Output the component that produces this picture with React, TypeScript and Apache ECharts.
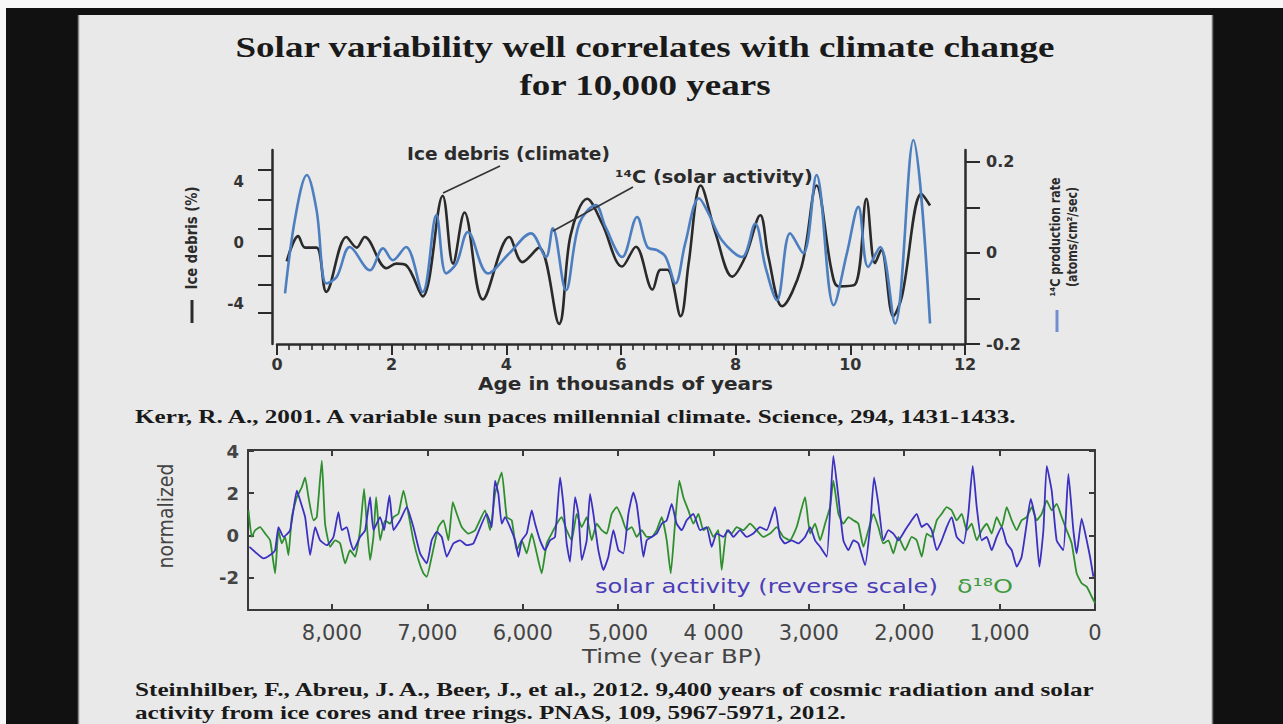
import React, { useEffect, useRef } from "react";
import * as echarts from "echarts";

const W = 1283;
const H = 724;

// ---------- Top chart (Kerr 2001) ----------
const iceAgeKyr = [0.17, 0.37, 0.49, 0.69, 0.86, 1.21, 1.39, 1.53, 1.91, 2.08, 2.25, 2.54, 2.89, 3.07, 3.27, 3.59, 4.05, 4.28, 4.57, 4.92, 5.12, 5.41, 5.67, 6.02, 6.26, 6.55, 6.69, 6.81, 7.04, 7.18, 7.39, 7.65, 7.94, 8.17, 8.43, 8.57, 8.81, 9.15, 9.41, 9.67, 9.79, 10.08, 10.28, 10.43, 10.54, 10.75, 10.9, 11.24, 11.39];
const iceDebrisPct = [-1.2, 0.45, -0.3, -0.3, -3.2, 0.4, -0.3, 0.4, -1.65, -1.35, -1.45, -3.5, 3.1, -1.35, 2.0, -3.7, 0.4, -1.25, -0.3, -5.3, 0.5, 2.9, 1.28, -1.54, -0.24, -3.05, -1.75, -1.75, -4.8, -1.32, 3.77, 0.63, -2.2, -0.88, 1.82, -0.88, -4.14, -1.54, 3.77, -1.75, -2.84, -2.73, 2.9, -1.32, -0.45, -4.8, -3.5, 3.22, 2.46];

const c14AgeKyr = [0.14, 0.32, 0.52, 0.69, 0.86, 1.04, 1.27, 1.62, 1.85, 2.02, 2.25, 2.54, 2.78, 2.95, 3.13, 3.33, 3.68, 4.05, 4.43, 4.69, 4.81, 5.04, 5.27, 5.56, 5.73, 6.02, 6.28, 6.46, 6.63, 6.78, 6.95, 7.12, 7.36, 7.53, 7.76, 8.11, 8.34, 8.52, 8.72, 8.95, 9.18, 9.41, 9.71, 9.94, 10.14, 10.31, 10.52, 10.78, 11.1, 11.39];
const c14Rate = [-0.089, 0.079, 0.171, 0.094, -0.067, -0.053, 0.013, -0.038, 0.01, -0.016, 0.013, -0.086, 0.083, -0.045, -0.023, 0.046, -0.045, -0.001, 0.043, -0.009, 0.054, -0.082, 0.064, 0.105, 0.057, -0.009, 0.079, 0.013, 0.006, -0.009, -0.067, 0.021, 0.12, 0.086, 0.028, -0.009, 0.064, -0.031, -0.104, 0.043, -0.001, 0.171, -0.115, -0.001, 0.101, -0.031, 0.013, -0.155, 0.248, -0.155];

const topAgeTicks = [0, 2, 4, 6, 8, 10, 12];
const iceDebrisLabels = [4, 0, -4];
const iceDebrisTickMarks = [4.8, 2.85, 0.95, -0.85, -2.75, -4.6];
const c14Labels = [0.2, 0, -0.2];
const c14TickMarks = [0.2, 0.1, 0, -0.1, -0.2];

// ---------- Bottom chart (Steinhilber 2012) ----------
const solarYearsBP = [8865, 8788, 8718, 8648, 8596, 8561, 8508, 8438, 8368, 8333, 8281, 8229, 8176, 8124, 8054, 7984, 7932, 7897, 7844, 7810, 7775, 7705, 7652, 7600, 7565, 7495, 7453, 7397, 7355, 7285, 7216, 7146, 7076, 7006, 6954, 6901, 6849, 6796, 6727, 6656, 6587, 6517, 6377, 6325, 6290, 6255, 6220, 6185, 6133, 6080, 6045, 6010, 5958, 5905, 5870, 5818, 5766, 5713, 5661, 5608, 5574, 5539, 5504, 5451, 5416, 5381, 5329, 5294, 5259, 5207, 5154, 5102, 5049, 4997, 4945, 4892, 4840, 4805, 4770, 4735, 4700, 4648, 4595, 4543, 4490, 4438, 4386, 4333, 4281, 4211, 4141, 4071, 4019, 3966, 3896, 3844, 3791, 3722, 3652, 3582, 3512, 3442, 3355, 3302, 3250, 3180, 3110, 3040, 2987, 2935, 2882, 2812, 2743, 2690, 2638, 2585, 2533, 2481, 2411, 2358, 2316, 2271, 2219, 2166, 2114, 2061, 1991, 1922, 1869, 1817, 1764, 1712, 1659, 1607, 1555, 1502, 1450, 1380, 1328, 1282, 1240, 1188, 1135, 1083, 1031, 978, 926, 873, 821, 769, 716, 674, 629, 583, 541, 506, 454, 402, 332, 279, 227, 192, 140, 87, 52, 17];
const solarNorm = [-0.55, -0.86, -1.1, -0.94, -0.71, 0.39, -0.08, 0.24, 2.12, 1.65, 0.86, -0.94, 0.39, -0.24, -0.47, -0.08, 1.1, 0.24, 0.39, -0.24, -0.71, -0.08, 0.24, 1.81, 0.24, 0.86, 0.24, 1.89, 0.24, 0.71, 1.34, 0.39, -0.86, -1.34, -0.24, 0.16, -0.08, -1.02, -0.39, -0.24, -0.47, -0.39, 1.02, 0.39, 2.59, 1.97, 0.55, 0.86, 0.39, -0.24, -1.02, -0.24, 0.08, 1.18, 0.55, -0.24, -0.71, -0.24, -0.08, 2.75, 1.49, -0.39, -1.26, 1.81, 1.02, -1.18, -0.24, 1.97, 1.02, -0.71, -1.65, -1.02, 0.24, -0.71, -0.86, 1.02, 2.04, 1.49, 0.24, -1.02, -0.24, -0.08, 0.08, 0.55, 0.71, 1.49, 0.55, 0.24, 0.71, 1.02, 0.24, 0.39, -0.55, 0.08, -0.08, 0.24, -0.08, 0.24, -0.08, 0.08, 0.39, 0.24, 1.34, -0.08, -0.39, -0.24, -0.39, -0.08, 0.39, -0.24, -0.55, -1.02, 3.77, 1.81, -0.24, -0.71, -0.24, -0.39, -1.42, 0.39, 2.75, 1.49, -0.24, 0.24, 0.08, -0.24, 0.24, 0.71, 1.02, 0.39, 0.55, 0.24, -0.71, -0.24, 0.39, 0.86, -0.08, -0.39, 1.02, 3.3, 1.34, -0.24, -0.08, -0.71, -0.08, 0.39, -0.39, -0.71, -1.49, -1.02, 0.55, 1.73, 0.86, -1.49, 0.24, 3.3, 2.12, -0.24, -0.71, 2.91, 0.24, -0.86, 0.79, -0.24, -1.02, -1.97];

const d18OYearsBP = [8875, 8840, 8805, 8753, 8700, 8648, 8596, 8561, 8526, 8491, 8456, 8421, 8368, 8316, 8281, 8246, 8194, 8159, 8106, 8072, 8019, 7967, 7914, 7862, 7810, 7757, 7705, 7663, 7635, 7600, 7565, 7537, 7495, 7443, 7390, 7355, 7303, 7250, 7198, 7146, 7093, 7041, 7006, 6954, 6884, 6831, 6779, 6733, 6691, 6639, 6569, 6499, 6395, 6342, 6290, 6220, 6167, 6115, 6063, 6010, 5958, 5905, 5853, 5801, 5748, 5696, 5643, 5591, 5539, 5486, 5434, 5381, 5329, 5277, 5224, 5172, 5119, 5067, 5014, 4962, 4910, 4857, 4805, 4752, 4700, 4648, 4595, 4543, 4490, 4448, 4403, 4358, 4316, 4263, 4211, 4158, 4106, 4054, 4001, 3949, 3914, 3861, 3809, 3757, 3687, 3617, 3547, 3477, 3407, 3337, 3267, 3198, 3128, 3040, 2987, 2935, 2882, 2830, 2778, 2743, 2690, 2638, 2585, 2533, 2481, 2428, 2376, 2323, 2271, 2219, 2166, 2114, 2061, 1991, 1922, 1869, 1817, 1764, 1712, 1659, 1607, 1555, 1502, 1450, 1397, 1345, 1293, 1240, 1188, 1135, 1083, 1031, 978, 926, 873, 821, 769, 716, 664, 611, 559, 506, 454, 402, 349, 297, 244, 192, 140, 87, 35, 0];
const d18ONorm = [1.18, -0.08, 0.24, 0.39, 0.08, -0.24, -1.81, 0.24, -0.39, -0.08, -0.94, 0.86, 1.81, 2.28, 2.75, 1.81, 0.71, 0.86, 3.54, 0.55, -0.55, -0.24, -0.39, -1.34, -0.71, -1.02, 0.24, 2.2, 0.55, -1.18, -0.08, 1.81, -0.24, 0.71, 0.55, 0.86, 1.02, 2.12, 1.02, -0.24, -1.18, -1.81, -1.97, -1.02, 0.39, 0.71, -0.24, 1.57, 1.02, 0.39, 0.08, 0.24, 1.18, 0.24, 1.97, 2.99, 0.86, 0.71, -0.71, -0.24, -0.86, 0.08, -0.86, -1.81, -0.39, 0.08, 0.55, 0.86, 0.24, -0.24, 1.02, 0.39, 0.86, -0.24, 0.55, 0.24, 0.08, 1.02, 1.34, 0.86, 0.24, 0.39, -0.08, 0.24, -0.08, -0.08, 0.24, 0.86, -0.24, -1.81, 0.55, 2.59, 1.81, 1.18, 0.55, 1.02, 0.24, 0.39, -0.08, 0.24, -1.65, 0.24, 0.08, 0.39, 0.24, 0.55, 0.24, -0.08, 0.08, 0.39, -0.08, -0.24, 0.39, 1.81, 0.08, 0.55, -0.24, 0.55, 1.34, 2.59, 1.02, 0.55, 0.86, 0.71, 0.55, -0.55, 0.24, 1.02, 0.39, -0.39, -0.24, -0.86, -0.08, -0.71, -0.08, -0.24, -1.02, 0.08, -0.08, 0.71, 1.02, 1.34, 1.18, 0.71, 1.02, 0.24, 0.55, -0.24, 0.24, 0.55, 0.08, 0.86, 0.39, 1.34, 0.71, 0.24, 0.71, 0.86, 1.34, 0.71, 1.02, 1.65, 1.18, 1.49, 0.86, 0.24, -0.39, -1.81, -2.28, -2.44, -2.91, -3.22];

const bpTicks = [0, 1000, 2000, 3000, 4000, 5000, 6000, 7000, 8000];
const bpTickLabels = ["0", "1,000", "2,000", "3,000", "4 000", "5,000", "6,000", "7,000", "8,000"];
const normTicks = [4, 2, 0, -2];

// ---------- Texts ----------
const titleLines = ["Solar variability well correlates with climate change", "for 10,000 years"];
const kerrRef = "Kerr, R. A., 2001. A variable sun paces millennial climate. Science, 294, 1431-1433.";
const steinRef = [
  "Steinhilber, F., Abreu, J. A., Beer, J., et al., 2012. 9,400 years of cosmic radiation and solar",
  "activity from ice cores and tree rings. PNAS, 109, 5967-5971, 2012.",
];

const SERIF = "Liberation Serif";
const SANS = "DejaVu Sans";

let measureCtx: CanvasRenderingContext2D | null = null;
function textWidth(text: string, size: number, family: string, weight: string) {
  if (!measureCtx) measureCtx = document.createElement("canvas").getContext("2d");
  measureCtx!.font = `${weight} ${size}px "${family}"`;
  return measureCtx!.measureText(text).width;
}

function txt(text: string, x: number, y: number, size: number, family: string, weight: string, fill: string, opts: any = {}) {
  return {
    type: "text",
    x,
    y,
    z: 20,
    rotation: opts.rotation || 0,
    scaleX: opts.scaleX || 1,
    scaleY: opts.scaleY || 1,
    style: {
      text,
      fontSize: size,
      fontFamily: family,
      fontWeight: weight,
      fill,
      align: opts.align || "left",
      verticalAlign: "middle",
      textAlign: opts.align || "left",
      textVerticalAlign: "middle",
    },
  };
}

function fitted(text: string, left: number, right: number, cy: number, size: number, family: string, weight: string, fill: string) {
  const s = (right - left) / textWidth(text, size, family, weight);
  return txt(text, left, cy, size, family, weight, fill, { scaleX: s });
}

export default function App() {
  const ref = useRef<HTMLDivElement>(null);

  useEffect(() => {
    const chart = echarts.init(ref.current!, null, { renderer: "svg", width: W, height: H });

    const titleSize = 30;
    const tScale = 820 / textWidth(titleLines[0], titleSize, SERIF, "bold");
    const refSize = 18;
    const rScale = (1097 - 135) / textWidth(steinRef[0], refSize, SERIF, "bold");
    const rightNameSize = 12;
    const rnScale = 119 / textWidth("¹⁴C production rate", rightNameSize, SANS, "bold");

    const graphics: any[] = [
      // screen frame
      { type: "rect", shape: { x: 0, y: 0, width: W, height: 8 }, style: { fill: "#f7f7f7" }, z: 1 },
      { type: "rect", shape: { x: 0, y: 0, width: 6, height: H }, style: { fill: "#f7f7f7" }, z: 1 },
      { type: "rect", shape: { x: 6, y: 8, width: W - 6, height: 7 }, style: { fill: "#111111" }, z: 1 },
      { type: "rect", shape: { x: 6, y: 8, width: 72, height: H - 8 }, style: { fill: "#111111" }, z: 1 },
      { type: "rect", shape: { x: 1213, y: 8, width: W - 1213, height: H - 8 }, style: { fill: "#111111" }, z: 1 },
      { type: "line", shape: { x1: 1212.5, y1: 15, x2: 1212.5, y2: H }, style: { stroke: "#777", lineWidth: 1.5 }, z: 2 },
      { type: "line", shape: { x1: 78.5, y1: 15, x2: 78.5, y2: H }, style: { stroke: "#888", lineWidth: 1.5 }, z: 2 },

      // title
      txt(titleLines[0], 645, 47, titleSize, SERIF, "bold", "#1a1a1a", { align: "center", scaleX: tScale }),
      txt(titleLines[1], 645, 85, titleSize, SERIF, "bold", "#1a1a1a", { align: "center", scaleX: tScale }),

      // references
      txt(kerrRef, 135, 417, refSize, SERIF, "bold", "#1a1a1a", { scaleX: rScale }),
      txt(steinRef[0], 135, 690, refSize, SERIF, "bold", "#1a1a1a", { scaleX: rScale }),
      txt(steinRef[1], 135, 713, refSize, SERIF, "bold", "#1a1a1a", { scaleX: rScale }),

      // top chart annotations
      fitted("Ice debris (climate)", 407, 610, 154, 17, SANS, "bold", "#2b2b2b"),
      fitted("¹⁴C (solar activity)", 615, 813, 177, 17, SANS, "bold", "#2b2b2b"),
      { type: "line", shape: { x1: 500, y1: 166, x2: 443, y2: 193 }, style: { stroke: "#333", lineWidth: 1.6 }, z: 20 },
      { type: "line", shape: { x1: 633, y1: 187, x2: 553, y2: 231 }, style: { stroke: "#333", lineWidth: 1.6 }, z: 20 },
      fitted("Age in thousands of years", 478, 773, 383, 18, SANS, "bold", "#2b2b2b"),

      // top left axis name
      txt("Ice debris (%)", 192, 238, 13, SANS, "bold", "#2b2b2b", {
        align: "center",
        rotation: Math.PI / 2,
        scaleX: 103 / textWidth("Ice debris (%)", 13, SANS, "bold"),
        scaleY: 1.2,
      }),
      { type: "line", shape: { x1: 192, y1: 300, x2: 192, y2: 323 }, style: { stroke: "#2b2b2b", lineWidth: 3 }, z: 20 },

      // top right axis name
      txt("¹⁴C production rate", 1055, 237, rightNameSize, SANS, "bold", "#2b2b2b", {
        align: "center",
        rotation: Math.PI / 2,
        scaleX: rnScale,
        scaleY: 1.2,
      }),
      txt("(atoms/cm²/sec)", 1072, 237, rightNameSize, SANS, "bold", "#2b2b2b", {
        align: "center",
        rotation: Math.PI / 2,
        scaleX: rnScale,
        scaleY: 1.2,
      }),
      { type: "line", shape: { x1: 1057, y1: 310, x2: 1057, y2: 332 }, style: { stroke: "#6f8fd0", lineWidth: 3 }, z: 20 },

      // bottom chart texts
      fitted("solar activity (reverse scale)", 595, 938, 586, 20, SANS, "normal", "#4a3db8"),
      fitted("δ¹⁸O", 957, 1013, 586, 20, SANS, "normal", "#3f9a3f"),
      fitted("Time (year BP)", 582, 762, 656, 19, SANS, "normal", "#444"),
      txt("normalized", 166, 516, 18, SANS, "normal", "#444", {
        align: "center",
        rotation: Math.PI / 2,
        scaleX: 105 / textWidth("normalized", 18, SANS, "normal"),
        scaleY: 1.2,
      }),
    ];

    const axisDark = { onZero: false, lineStyle: { color: "#2b2b2b", width: 2.5 } };
    const boxLine = { onZero: false, lineStyle: { color: "#3a3a3a", width: 2 } };

    const option: any = {
      animation: false,
      backgroundColor: "#e9e9e9",
      graphic: { elements: graphics },
      grid: [
        { left: 277, top: 150, width: 688, height: 194, containLabel: false },
        { left: 248, top: 450, width: 847, height: 160, containLabel: false },
      ],
      xAxis: [
        {
          gridIndex: 0,
          type: "value",
          position: "bottom",
          min: topAgeTicks[0],
          max: topAgeTicks[topAgeTicks.length - 1],
          interval: 2,
          axisLine: { show: true, ...axisDark },
          axisTick: { show: true, inside: false, length: 11, lineStyle: { color: "#2b2b2b", width: 2 } },
          minorTick: { show: true, splitNumber: 10, length: 6, lineStyle: { color: "#2b2b2b", width: 1.6 } },
          splitLine: { show: false },
          minorSplitLine: { show: false },
          axisLabel: {
            margin: 12,
            fontFamily: SANS,
            fontWeight: "bold",
            fontSize: 16,
            color: "#333",
          },
        },
        {
          gridIndex: 1,
          type: "value",
          position: "bottom",
          inverse: true,
          min: 0,
          max: 8880,
          axisLine: { show: true, ...boxLine },
          axisTick: { show: true, inside: true, length: 6, customValues: bpTicks, lineStyle: { color: "#3a3a3a", width: 2 } },
          splitLine: { show: false },
          axisLabel: {
            customValues: bpTicks,
            margin: 12,
            fontFamily: SANS,
            fontSize: 21,
            color: "#444",
            formatter: (v: number) => {
              const i = bpTicks.indexOf(v);
              return i >= 0 ? bpTickLabels[i] : "";
            },
          },
        },
        {
          gridIndex: 1,
          type: "value",
          position: "top",
          inverse: true,
          min: 0,
          max: 8880,
          axisLine: { show: true, ...boxLine },
          axisTick: { show: true, inside: true, length: 6, customValues: bpTicks, lineStyle: { color: "#3a3a3a", width: 2 } },
          splitLine: { show: false },
          axisLabel: { show: false },
        },
      ],
      yAxis: [
        {
          gridIndex: 0,
          type: "value",
          position: "left",
          offset: 5,
          min: -6.62,
          max: 6.1,
          axisLine: { show: true, ...axisDark },
          axisTick: { show: true, inside: false, length: 14, customValues: iceDebrisTickMarks, lineStyle: { color: "#2b2b2b", width: 2 } },
          splitLine: { show: false },
          axisLabel: {
            customValues: iceDebrisLabels,
            margin: 28,
            fontFamily: SANS,
            fontWeight: "bold",
            fontSize: 15,
            color: "#333",
          },
        },
        {
          gridIndex: 0,
          type: "value",
          position: "right",
          min: -0.2,
          max: 0.226,
          axisLine: { show: true, ...axisDark },
          axisTick: { show: true, inside: false, length: 15, customValues: c14TickMarks, lineStyle: { color: "#2b2b2b", width: 2 } },
          splitLine: { show: false },
          axisLabel: {
            customValues: c14Labels,
            margin: 21,
            fontFamily: SANS,
            fontWeight: "bold",
            fontSize: 16,
            color: "#333",
          },
        },
        {
          gridIndex: 1,
          type: "value",
          position: "left",
          min: -3.55,
          max: 4.05,
          axisLine: { show: true, ...boxLine },
          axisTick: { show: true, inside: true, length: 6, customValues: normTicks, lineStyle: { color: "#3a3a3a", width: 2 } },
          splitLine: { show: false },
          axisLabel: {
            customValues: normTicks,
            margin: 9,
            fontFamily: SANS,
            fontWeight: "bold",
            fontSize: 18,
            color: "#444",
          },
        },
        {
          gridIndex: 1,
          type: "value",
          position: "right",
          min: -3.55,
          max: 4.05,
          axisLine: { show: true, ...boxLine },
          axisTick: { show: true, inside: true, length: 6, customValues: normTicks, lineStyle: { color: "#3a3a3a", width: 2 } },
          splitLine: { show: false },
          axisLabel: { show: false },
        },
      ],
      series: [
        {
          name: "Ice debris (climate)",
          type: "line",
          xAxisIndex: 0,
          yAxisIndex: 0,
          data: iceAgeKyr.map((t, i) => [t, iceDebrisPct[i]]),
          smooth: 0.35,
          showSymbol: false,
          symbol: "none",
          clip: false,
          lineStyle: { color: "#2a2a2a", width: 2.6 },
          z: 3,
        },
        {
          name: "14C (solar activity)",
          type: "line",
          xAxisIndex: 0,
          yAxisIndex: 1,
          data: c14AgeKyr.map((t, i) => [t, c14Rate[i]]),
          smooth: 0.35,
          showSymbol: false,
          symbol: "none",
          clip: false,
          lineStyle: { color: "#4d7fc0", width: 2.6 },
          z: 4,
        },
        {
          name: "δ18O",
          type: "line",
          xAxisIndex: 1,
          yAxisIndex: 2,
          data: d18OYearsBP.map((t, i) => [t, d18ONorm[i]]),
          smooth: 0.15,
          showSymbol: false,
          symbol: "none",
          lineStyle: { color: "#2f8f2f", width: 1.8 },
          z: 3,
        },
        {
          name: "solar activity (reverse scale)",
          type: "line",
          xAxisIndex: 1,
          yAxisIndex: 2,
          data: solarYearsBP.map((t, i) => [t, solarNorm[i]]),
          smooth: 0.15,
          showSymbol: false,
          symbol: "none",
          lineStyle: { color: "#3b30c0", width: 1.8 },
          z: 4,
        },
      ],
    };

    chart.setOption(option);
    return () => chart.dispose();
  }, []);

  return <div ref={ref} style={{ position: "fixed", left: 0, top: 0, width: W, height: H }} />;
}
